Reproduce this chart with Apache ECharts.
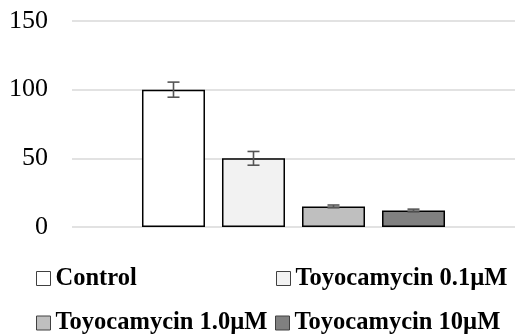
<!DOCTYPE html>
<html><head><meta charset="utf-8">
<script src="https://cdn.jsdelivr.net/npm/echarts@6/dist/echarts.min.js"></script>
<style>html,body{margin:0;padding:0;background:#fff}#c{width:517px;height:334px}</style>
</head><body><div id="c"></div>
<script>
var categories = ['Viability'];
var seriesNames = ['Control', 'Toyocamycin 0.1\u00b5M', 'Toyocamycin 1.0\u00b5M', 'Toyocamycin 10\u00b5M'];
var values = [100, 50, 15, 12];
var errors = [5.5, 5, 1, 1];
var colors = ['#ffffff', '#f2f2f2', '#bfbfbf', '#808080'];
var yTicks = [0, 50, 100, 150];

var FONT = '"Liberation Serif", "Times New Roman", serif';
var BAR_W = 63, BAR_GAP = 17;
var chart = echarts.init(document.getElementById('c'));
var series = seriesNames.map(function (n, i) {
  return {
    name: n, type: 'bar', data: [values[i]], barWidth: BAR_W, barGap: (BAR_GAP / BAR_W * 100).toFixed(1) + '%',
    itemStyle: { color: colors[i], borderColor: '#000', borderWidth: 1.5 },
    z: 2
  };
});
series.push({
  type: 'custom', z: 5, silent: true,
  data: values.map(function (v, i) { return [0, v, errors[i], i]; }),
  encode: { x: 0, y: 1 },
  renderItem: function (params, api) {
    var v = api.value(1), e = api.value(2), i = api.value(3);
    var n = seriesNames.length;
    var off = (i - (n - 1) / 2) * (BAR_W + BAR_GAP);
    var hi = api.coord([0, v + e]), lo = api.coord([0, v - e]);
    var x = hi[0] + off, cap = 6;
    var st = { stroke: '#555555', lineWidth: 1.6 };
    return { type: 'group', children: [
      { type: 'line', shape: { x1: x, y1: hi[1], x2: x, y2: lo[1] }, style: st },
      { type: 'line', shape: { x1: x - cap, y1: hi[1], x2: x + cap, y2: hi[1] }, style: st },
      { type: 'line', shape: { x1: x - cap, y1: lo[1], x2: x + cap, y2: lo[1] }, style: st }
    ]};
  }
});
var legPos = [[36, 266], [276, 266], [36, 310.5], [275, 310.5]];
var legends = seriesNames.map(function (n, i) {
  return {
    data: [n], left: legPos[i][0], top: legPos[i][1], padding: 0,
    icon: 'rect', itemWidth: 14, itemHeight: 14,
    itemStyle: { borderColor: '#404040', borderWidth: 1 },
    textStyle: { fontFamily: FONT, fontWeight: 'bold', fontSize: 24.5, color: '#000', lineHeight: 25 },
    selectedMode: false
  };
});
chart.setOption({
  animation: false,
  grid: { left: 72, right: 2, top: 21, bottom: 107 },
  legend: legends,
  xAxis: { type: 'category', data: categories, axisLine: { show: false }, axisTick: { show: false }, axisLabel: { show: false } },
  yAxis: {
    type: 'value', min: yTicks[0], max: yTicks[yTicks.length - 1], interval: 50,
    axisLine: { show: false }, axisTick: { show: false },
    splitLine: { lineStyle: { color: '#d9d9d9', width: 1.5 } },
    axisLabel: { fontFamily: FONT, fontSize: 26, color: '#000', margin: 24 }
  },
  series: series
});
</script></body></html>
